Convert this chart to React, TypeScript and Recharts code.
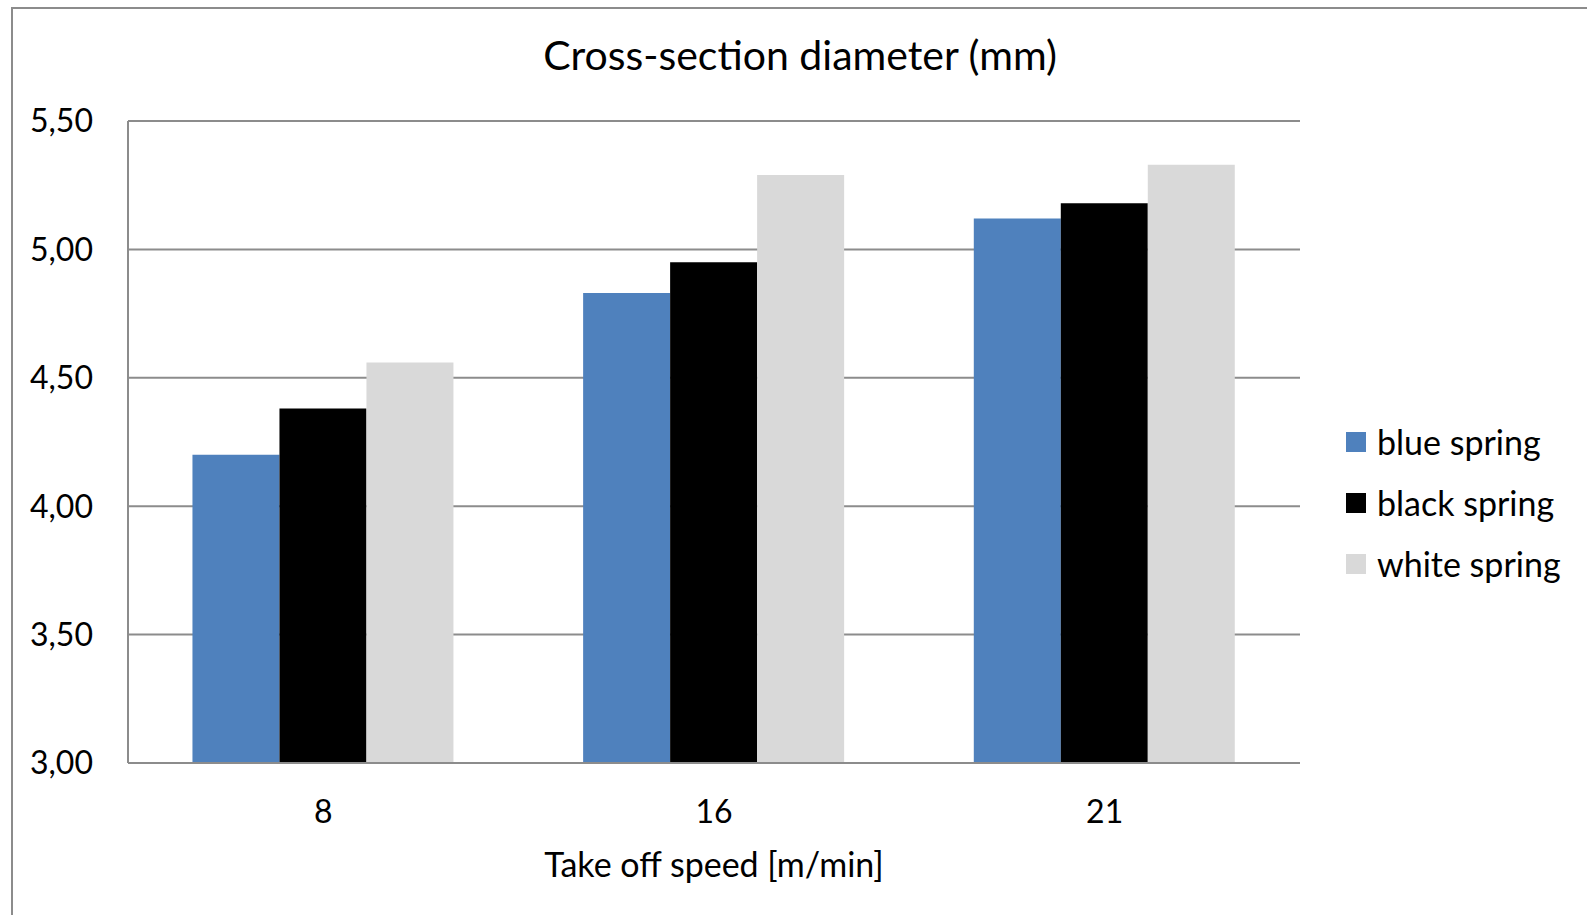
import React from 'react';
import { BarChart, Bar, XAxis, YAxis, CartesianGrid, Legend } from 'recharts';

const categories = ['8', '16', '21'];
const blueSpring = [4.2, 4.83, 5.12];
const blackSpring = [4.38, 4.95, 5.18];
const whiteSpring = [4.56, 5.29, 5.33];
const yTicks = [3.0, 3.5, 4.0, 4.5, 5.0, 5.5];

const seriesNames = ['blue spring', 'black spring', 'white spring'];
const seriesColors = ['#4F81BD', '#000000', '#D9D9D9'];

const data = categories.map((c, i) => ({
  name: c,
  blue: blueSpring[i],
  black: blackSpring[i],
  white: whiteSpring[i],
}));

const FONT = 'Lato, "Open Sans", sans-serif';

const fmt = (v: number) => v.toFixed(2).replace('.', ',');

const LegendContent = () => (
  <div style={{ fontFamily: FONT, fontSize: 34, color: '#000' }}>
    {seriesNames.map((n, i) => (
      <div key={n} style={{ display: 'flex', alignItems: 'center', height: 61 }}>
        <div style={{ width: 20, height: 20, background: seriesColors[i], marginRight: 11 }} />
        <span>{n}</span>
      </div>
    ))}
  </div>
);

export default function App() {
  return (
    <div style={{ position: 'absolute', left: 0, top: 0, width: 1587, height: 915, overflow: 'hidden', background: '#fff' }}>
      <div style={{ position: 'absolute', left: 11, top: 7, width: 1700, height: 1000, border: '2px solid #8c8c8c', boxSizing: 'border-box' }} />
      <div style={{ position: 'absolute', left: 0, top: 30, width: 1600, textAlign: 'center', fontFamily: FONT, fontSize: 41, color: '#000' }}>
        Cross-section diameter (mm)
      </div>
      <div style={{ position: 'absolute', left: 0, top: 0 }}>
        <BarChart
          width={1587}
          height={915}
          data={data}
          margin={{ top: 121, right: 47, bottom: 52, left: 28 }}
          barCategoryGap="16.5%"
          barGap={0}
        >
          <CartesianGrid vertical={false} stroke="#8c8c8c" strokeWidth={2} />
          <XAxis
            dataKey="name"
            height={100}
            axisLine={{ stroke: '#8c8c8c', strokeWidth: 2 }}
            tickLine={false}
            tick={{ fontFamily: FONT, fontSize: 32, fill: '#000' }}
            tickMargin={31}
            label={{ value: 'Take off speed [m/min]', position: 'insideBottom', offset: -14, style: { fontFamily: FONT, fontSize: 34, fill: '#000' } }}
          />
          <YAxis
            width={100}
            domain={[3, 5.5]}
            ticks={yTicks}
            tickFormatter={fmt}
            axisLine={{ stroke: '#8c8c8c', strokeWidth: 2 }}
            tickLine={false}
            tick={{ fontFamily: FONT, fontSize: 32, fill: '#000' }}
            tickMargin={29}
          />
          <Legend
            layout="vertical"
            align="right"
            verticalAlign="top"
            content={<LegendContent />}
            wrapperStyle={{ position: 'absolute', left: 1346, top: 411, width: 240 }}
          />
          <Bar dataKey="blue" name={seriesNames[0]} fill={seriesColors[0]} isAnimationActive={false} />
          <Bar dataKey="black" name={seriesNames[1]} fill={seriesColors[1]} isAnimationActive={false} />
          <Bar dataKey="white" name={seriesNames[2]} fill={seriesColors[2]} isAnimationActive={false} />
        </BarChart>
      </div>
    </div>
  );
}
